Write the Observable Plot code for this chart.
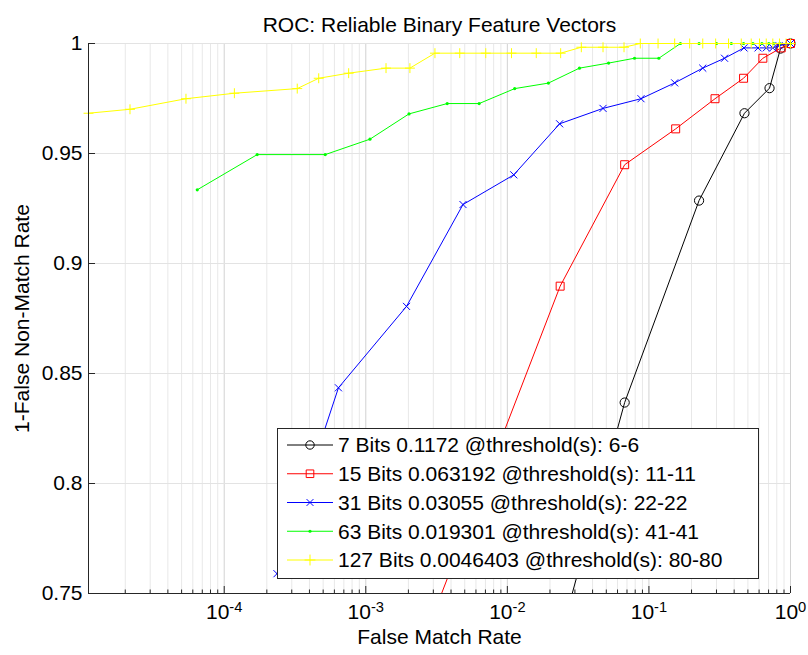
<!DOCTYPE html>
<html><head><meta charset="utf-8">
<script src="https://cdn.jsdelivr.net/npm/d3@7"></script>
<script src="https://cdn.jsdelivr.net/npm/@observablehq/plot@0.6"></script>
<style>
body{margin:0;background:#fff;}
#wrap{position:relative;width:808px;height:655px;font-family:"Liberation Sans",Arial,sans-serif;}
</style></head><body><div id="wrap"></div>
<script>
const title = "ROC: Reliable Binary Feature Vectors";
const xLabel = "False Match Rate";
const yLabel = "1-False Non-Match Rate";
const seriesNames = [
  "7 Bits 0.1172 @threshold(s): 6-6",
  "15 Bits 0.063192 @threshold(s): 11-11",
  "31 Bits 0.03055 @threshold(s): 22-22",
  "63 Bits 0.019301 @threshold(s): 41-41",
  "127 Bits 0.0046403 @threshold(s): 80-80"
];
const seriesColors = ["#000000", "#ff0000", "#0000ff", "#00ff00", "#ffff00"];
const seriesSymbols = ["circle", "square", "times", "point", "plus"];

const fmr7 = [0.008, 0.0674, 0.226, 0.473, 0.711, 0.85, 1];
const gar7 = [0.62, 0.8368, 0.9286, 0.9683, 0.9797, 0.9977, 1];

const fmr15 = [0.00057, 0.0236, 0.0674, 0.1545, 0.293, 0.466, 0.638, 0.859, 1];
const gar15 = [0.62, 0.8897, 0.9449, 0.9612, 0.9749, 0.9842, 0.9933, 0.998, 1];

const fmr31 = [0.000236, 0.000641, 0.00194, 0.00486, 0.0111, 0.0234, 0.0474, 0.0879, 0.152, 0.240, 0.342, 0.469, 0.590, 0.674, 0.75, 0.83, 1];
const gar31 = [0.759, 0.8435, 0.8805, 0.9268, 0.9403, 0.9635, 0.9705, 0.9749, 0.9821, 0.9888, 0.9933, 0.998, 0.998, 0.998, 0.998, 0.999, 1];

const fmr63 = [0.0000645, 0.000171, 0.000517, 0.00107, 0.00202, 0.00376, 0.00632, 0.01127, 0.0195, 0.0323, 0.0519, 0.0791, 0.1175, 0.167, 0.226, 0.30, 0.382, 0.466, 0.543, 0.628, 0.703, 0.76, 0.84, 1];
const gar63 = [0.9335, 0.9495, 0.9495, 0.9565, 0.968, 0.9727, 0.9727, 0.9795, 0.982, 0.9888, 0.9911, 0.9933, 0.9933, 1, 1, 1, 1, 1, 1, 1, 1, 1, 1, 1];

const fmr127 = [0.000011, 0.0000216, 0.0000537, 0.000118, 0.000328, 0.000465, 0.000757, 0.00139, 0.00205, 0.00308, 0.00461, 0.00704, 0.0107, 0.0160, 0.0238, 0.0333, 0.0474, 0.0667, 0.0869, 0.116, 0.152, 0.194, 0.240, 0.296, 0.365, 0.449, 0.528, 0.604, 0.674, 0.75, 0.836, 0.93, 1];
const gar127 = [0.9683, 0.9701, 0.9749, 0.9774, 0.9795, 0.9842, 0.9865, 0.9888, 0.9888, 0.9956, 0.9956, 0.9956, 0.9956, 0.9956, 0.9956, 0.9983, 0.9983, 0.9983, 1, 1, 1, 1, 1, 1, 1, 1, 1, 1, 1, 1, 1, 1, 1];

const xDomain = [0.000011, 1];
const yDomain = [0.75, 1];
const xMajorTicks = [1e-4, 1e-3, 1e-2, 1e-1, 1];
const xTickLabels = ["10^-4", "10^-3", "10^-2", "10^-1", "10^0"];
const xMinorTicks = [
  2e-5, 3e-5, 4e-5, 5e-5, 6e-5, 7e-5, 8e-5, 9e-5,
  2e-4, 3e-4, 4e-4, 5e-4, 6e-4, 7e-4, 8e-4, 9e-4,
  2e-3, 3e-3, 4e-3, 5e-3, 6e-3, 7e-3, 8e-3, 9e-3,
  0.02, 0.03, 0.04, 0.05, 0.06, 0.07, 0.08, 0.09,
  0.2, 0.3, 0.4, 0.5, 0.6, 0.7, 0.8, 0.9
];
const yTicks = [0.75, 0.8, 0.85, 0.9, 0.95, 1];
const yTickLabels = ["0.75", "0.8", "0.85", "0.9", "0.95", "1"];

const seriesX = [fmr7, fmr15, fmr31, fmr63, fmr127];
const seriesY = [gar7, gar15, gar31, gar63, gar127];

const FONT = "'Liberation Sans', Arial, Helvetica, sans-serif";
const AXIS = "#262626";

function dotOpts(i) {
  const sym = seriesSymbols[i], c = seriesColors[i];
  const base = {x: "x", y: "y", filter: d => d.y >= yDomain[0]};
  if (sym === "circle") return {...base, symbol: "circle", r: 4.6, fill: "none", stroke: c, strokeWidth: 1};
  if (sym === "square") return {...base, symbol: "square", r: 4.5, fill: "none", stroke: c, strokeWidth: 1};
  if (sym === "times") return {...base, symbol: "times", r: 3.3, fill: "none", stroke: c, strokeWidth: 1};
  if (sym === "plus") return {...base, symbol: "plus", r: 3.3, fill: "none", stroke: c, strokeWidth: 1};
  return {...base, symbol: "circle", r: 1.6, fill: c, stroke: "none"};
}

const seriesMarks = [];
seriesNames.forEach((name, i) => {
  const rows = seriesX[i].map((x, j) => ({x, y: seriesY[i][j], series: name}));
  seriesMarks.push(Plot.line(rows, {x: "x", y: "y", stroke: seriesColors[i], strokeWidth: 1, clip: true}));
  seriesMarks.push(Plot.dot(rows, dotOpts(i)));
});

const chart = Plot.plot({
  width: 808, height: 655,
  marginLeft: 88, marginRight: 18, marginTop: 43, marginBottom: 62,
  style: {fontFamily: FONT, fontSize: "21px", background: "#fff", color: "#000", overflow: "visible"},
  x: {type: "log", domain: xDomain},
  y: {domain: yDomain},
  marks: [
    Plot.gridX(xMinorTicks, {stroke: "#e8e8e8", strokeOpacity: 1}),
    Plot.gridX(xMajorTicks, {stroke: "#d2d2d2", strokeOpacity: 1}),
    Plot.gridY(yTicks, {stroke: "#e3e3e3", strokeOpacity: 1}),
    ...seriesMarks,
    Plot.ruleX([xDomain[0]], {stroke: AXIS}),
    Plot.ruleY([yDomain[0]], {stroke: AXIS}),
    Plot.axisX(xMinorTicks, {tickSize: -3.5, stroke: AXIS, tickFormat: () => "", label: null}),
    Plot.axisX(xMajorTicks, {tickSize: -7, stroke: AXIS, tickFormat: () => "", label: null}),
    Plot.axisX(xMajorTicks, {tickSize: 0, tickPadding: 11, tickFormat: d => xTickLabels[xMajorTicks.indexOf(d)], label: null, fill: "#000"}),
    Plot.axisY(yTicks, {tickSize: -7, stroke: AXIS, tickFormat: () => "", label: null}),
    Plot.axisY(yTicks, {tickSize: 0, tickPadding: 6, tickFormat: d => yTickLabels[yTicks.indexOf(d)], label: null, fill: "#000"}),
    Plot.text([title], {text: d => d, frameAnchor: "top", dy: -26, fill: "#000"}),
    Plot.text([xLabel], {text: d => d, frameAnchor: "bottom", dy: 50, fill: "#000"}),
    Plot.text([yLabel], {text: d => d, frameAnchor: "left", textAnchor: "middle", dx: -66, rotate: -90, fill: "#000"})
  ]
});

// superscript exponents on x tick labels
const NS = "http://www.w3.org/2000/svg";
chart.querySelectorAll('[aria-label="x-axis tick label"] text').forEach(t => {
  const parts = t.textContent.split("^");
  if (parts.length === 2) {
    t.textContent = parts[0];
    const ts = document.createElementNS(NS, "tspan");
    ts.setAttribute("dy", "-0.5em");
    ts.setAttribute("font-size", "0.7em");
    ts.textContent = parts[1];
    t.appendChild(ts);
  }
});

const wrap = document.getElementById("wrap");
wrap.appendChild(chart);

// legend (inside the axes, lower right)
const L = d3.select(wrap).append("svg")
  .attr("width", 482).attr("height", 151)
  .style("position", "absolute").style("left", "277px").style("top", "428px")
  .style("font-family", FONT).style("font-size", "21px");
L.append("rect").attr("x", 0.5).attr("y", 0.5).attr("width", 481).attr("height", 150)
  .attr("fill", "#fff").attr("stroke", AXIS);
const symMap = {circle: d3.symbolCircle, square: d3.symbolSquare, times: d3.symbolTimes, plus: d3.symbolPlus, point: d3.symbolCircle};
const rMap = {circle: 4.2, square: 4.3, times: 3.2, plus: 3.6, point: 1.6};
seriesNames.forEach((name, i) => {
  const g = L.append("g").attr("transform", `translate(0,${17 + i * 28.75})`);
  const c = seriesColors[i], s = seriesSymbols[i];
  g.append("line").attr("x1", 10).attr("x2", 56).attr("y1", 0).attr("y2", 0).attr("stroke", c).attr("stroke-width", 1);
  const r = rMap[s];
  const path = d3.symbol(symMap[s], Math.PI * r * r)();
  g.append("path").attr("transform", "translate(33,0)").attr("d", path)
    .attr("fill", s === "point" ? c : "none").attr("stroke", s === "point" ? "none" : c).attr("stroke-width", 1);
  g.append("text").attr("x", 61).attr("dy", "0.35em").attr("fill", "#000").text(name);
});
</script>
</body></html>
